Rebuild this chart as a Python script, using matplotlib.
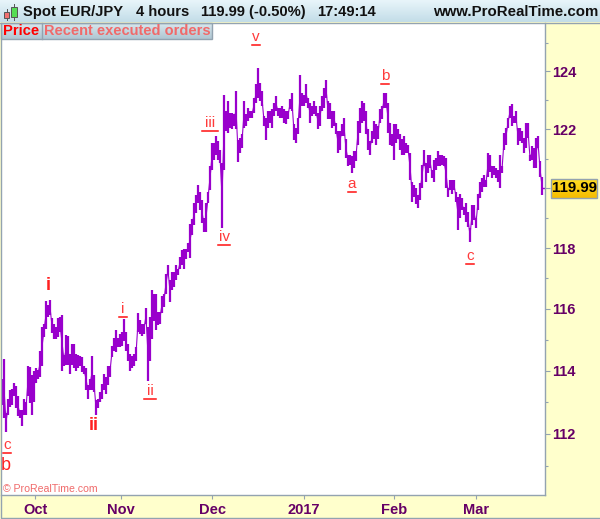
import matplotlib

matplotlib.use('Agg')

import matplotlib.pyplot as plt
from matplotlib.patches import Rectangle
from matplotlib.ticker import FixedFormatter, FixedLocator, NullFormatter
import numpy as np

plt.rcParams['font.family'] = ['Liberation Sans', 'DejaVu Sans']

# 4 hour bars, EUR/JPY
highs = [
    113.75, 114.38, 112.65, 113.1, 113.4, 113.43, 113.62, 113.5, 113.2, 112.75,
    112.75, 113.1, 113.0, 114.15, 114.12, 113.85, 114.0, 114.1, 114.03, 114.65,
    115.4, 115.5, 116.27, 116.13, 116.3, 115.7, 115.52, 115.4, 115.7, 115.75,
    115.8, 114.5, 115.15, 115.13, 114.53, 114.85, 114.85, 114.53, 114.5, 114.48,
    114.45, 114.15, 114.1, 113.53, 113.75, 114.48, 113.85, 113.06, 113.1, 113.32,
    113.58, 113.9, 113.8, 114.15, 114.16, 114.8, 115.07, 115.3, 115.07, 115.18,
    115.24, 115.67, 115.24, 114.86, 114.54, 114.48, 114.54, 114.75, 115.88, 115.63,
    115.52, 115.52, 116.02, 115.4, 115.74, 116.6, 116.5, 116.47, 115.9, 115.9,
    116.41, 116.5, 117.15, 117.45, 116.93, 117.2, 117.2, 117.43, 117.32, 117.7,
    117.93, 117.98, 117.98, 118.15, 118.8, 118.95, 119.5, 119.77, 120.1, 119.88,
    119.6, 118.99, 119.5, 119.88, 120.74, 121.54, 121.54, 121.77, 121.6, 121.31,
    120.85, 123.2, 122.63, 122.98, 122.57, 122.57, 122.52, 123.32, 121.65, 121.71,
    121.83, 122.98, 122.52, 122.75, 122.63, 122.63, 123.09, 123.55, 124.13, 123.6,
    123.32, 122.46, 122.4, 122.63, 122.63, 122.69, 122.92, 123.15, 122.75, 122.75,
    122.8, 122.69, 122.63, 122.63, 123.03, 123.26, 122.17, 122.06, 122.4, 123.86,
    123.26, 123.2, 123.55, 123.09, 122.92, 122.8, 122.98, 122.8, 122.57, 122.8,
    123.15, 123.44, 123.72, 122.98, 122.92, 122.63, 122.63, 122.23, 121.94, 121.94,
    122.17, 122.4, 121.66, 121.14, 121.14, 121.08, 121.25, 121.25, 122.29, 122.75,
    122.98, 122.92, 122.63, 122.0, 121.6, 121.94, 122.29, 122.17, 122.11, 122.69,
    122.8, 123.26, 123.26, 122.92, 122.23, 121.83, 122.17, 122.17, 122.0, 121.83,
    121.66, 121.77, 121.54, 121.48, 121.2, 120.22, 120.1, 120.0, 119.77, 120.16,
    120.8, 121.31, 120.85, 121.14, 121.14, 120.62, 120.97, 121.02, 121.25, 121.14,
    121.14, 121.08, 121.02, 119.99, 120.28, 120.28, 120.28, 119.88, 119.71, 119.82,
    119.66, 119.38, 119.49, 119.21, 118.66, 119.43, 119.43, 118.99, 119.82, 120.22,
    120.33, 120.45, 120.28, 121.2, 121.14, 120.74, 120.74, 120.68, 120.62, 121.14,
    120.74, 121.89, 122.06, 122.4, 122.8, 122.86, 122.46, 122.63, 122.06, 122.06,
    121.94, 121.71, 122.23, 122.23, 121.14, 121.43, 121.37, 121.71, 121.77, 120.91,
    120.39,
]
lows = [
    112.9, 112.49, 112.07, 112.6, 112.85, 112.9, 113.2, 112.8, 112.55, 112.49,
    112.23, 112.6, 112.6, 113.2, 112.96, 112.58, 113.0, 113.6, 113.75, 113.8,
    114.15, 115.08, 115.35, 115.75, 115.8, 115.2, 115.02, 115.02, 115.08, 115.25,
    114.0, 114.15, 114.2, 114.2, 113.9, 114.2, 114.1, 114.0, 114.1, 114.15,
    113.95, 113.9, 113.4, 113.1, 113.38, 113.38, 113.33, 112.6, 112.8, 113.0,
    113.1, 113.38, 113.25, 113.53, 113.8, 114.43, 114.65, 114.6, 114.75, 114.75,
    114.8, 114.97, 114.65, 114.32, 113.98, 114.1, 114.16, 114.32, 115.24, 115.18,
    115.13, 115.18, 115.52, 113.68, 114.32, 115.02, 115.6, 115.3, 115.47, 115.52,
    115.87, 116.07, 116.5, 117.1, 116.23, 116.62, 116.72, 116.93, 117.1, 117.32,
    117.43, 117.32, 117.65, 117.88, 117.68, 118.43, 118.77, 119.16, 119.5, 119.27,
    118.82, 118.54, 118.54, 119.5, 119.93, 120.62, 120.97, 121.14, 120.97, 120.85,
    118.67, 120.62, 121.94, 121.88, 122.06, 122.0, 122.11, 122.0, 120.9, 121.2,
    121.37, 122.06, 122.11, 122.29, 122.4, 122.4, 122.57, 122.92, 123.09, 122.98,
    122.8, 122.11, 121.65, 122.06, 122.23, 122.06, 122.46, 122.63, 122.46, 122.4,
    122.4, 122.23, 122.17, 122.34, 122.69, 122.63, 121.65, 121.54, 121.83, 122.4,
    122.8, 122.8, 122.92, 122.75, 122.23, 122.46, 122.52, 122.46, 122.0, 122.11,
    122.63, 122.75, 123.09, 122.34, 122.34, 122.06, 122.11, 121.83, 121.2, 121.31,
    121.77, 121.77, 121.02, 120.74, 120.8, 120.51, 120.68, 120.91, 121.48, 121.89,
    122.23, 122.29, 121.83, 121.31, 121.14, 121.54, 121.66, 121.48, 121.66, 122.23,
    122.34, 122.75, 122.75, 121.89, 121.48, 121.43, 120.97, 121.54, 121.66, 121.31,
    121.14, 121.14, 121.2, 121.2, 120.28, 119.53, 119.7, 119.48, 119.32, 119.6,
    119.99, 120.74, 120.22, 120.5, 120.68, 120.33, 120.22, 120.62, 120.74, 120.74,
    120.8, 120.74, 120.0, 119.71, 119.93, 119.82, 119.93, 119.54, 118.6, 118.99,
    119.27, 119.1, 118.88, 118.71, 118.21, 118.77, 118.93, 118.66, 119.27, 119.66,
    119.88, 120.05, 120.05, 120.39, 120.56, 120.33, 120.45, 120.33, 120.22, 120.0,
    120.5, 121.31, 121.48, 122.06, 122.4, 122.11, 122.23, 122.23, 121.48, 121.6,
    121.54, 121.2, 121.37, 121.71, 120.91, 120.97, 120.68, 120.68, 121.37, 120.39,
    119.77,
]
month_pos = [16.5, 59.5, 105, 151, 196, 237]
month_labels = ['Oct', 'Nov', 'Dec', '2017', 'Feb', 'Mar']
price_ticks = [112, 114, 116, 118, 120, 122, 124]
price_labels = ['112', '114', '116', '118', '', '122', '124']  # 120 sits under the price tag
price_minor = [111, 113, 115, 117, 119, 121, 123, 125]
last_price = 119.99

# wave labels: text, x, y
waves = [
    ('v', 256, 37), ('b', 385, 76), ('iii', 210, 123),
    ('a', 352, 184), ('iv', 224, 237), ('c', 470, 256),
    ('i', 123, 309), ('ii', 150, 391), ('c', 7, 445),
]

PURPLE = '#9900CC'
EDGE = '#93A3B0'
TEXT = '#660066'
RED = '#FF3B3B'

W, H = 600, 519
fig = plt.figure(figsize=(W / 100, H / 100), dpi=100, facecolor='#FFFFCC')

# chrome in pixel coords
bg = fig.add_axes([0, 0, 1, 1], zorder=3)
bg.axis('off')
bg.patch.set_alpha(0)


def gradient(x0, y0, x1, y1, top, bottom, z=1):
    c0 = np.array(matplotlib.colors.to_rgb(top))
    c1 = np.array(matplotlib.colors.to_rgb(bottom))
    t = np.linspace(0, 1, 32)[:, None, None]
    img = c0[None, None, :] * (1 - t) + c1[None, None, :] * t
    bg.imshow(img, extent=(x0, x1, y1, y0), aspect='auto', zorder=z)


gradient(0, 0, W, 22, '#E8F5FA', '#C3DDE8')
bg.plot([0, W], [22.5, 22.5], color=EDGE, lw=1)

# tabs
gradient(1, 23, 212, 39, '#D8E8EE', '#AFC6D2')
bg.add_patch(Rectangle((1, 23), 211, 16, fill=False, ec=EDGE, lw=1, zorder=2))
bg.plot([41.5, 41.5], [23, 39], color=EDGE, lw=1, zorder=2)

# small candle icon
bg.add_patch(Rectangle((4, 12), 5, 6, fc='#F07070', ec='#555555', lw=0.7, zorder=3))
bg.plot([6.5, 6.5], [9, 20], color='#555555', lw=0.7, zorder=2)
bg.add_patch(Rectangle((11, 7), 6, 10, fc='#55DD55', ec='#555555', lw=0.7, zorder=3))
bg.plot([14, 14], [4, 20], color='#555555', lw=0.7, zorder=2)

head = dict(fontweight='bold', color='#111111', va='center', ha='left')
bg.text(23, 12, 'Spot EUR/JPY', fontsize=10.6, **head)
bg.text(136, 12, '4 hours', fontsize=10.6, **head)
bg.text(201, 12, '119.99 (-0.50%)', fontsize=10.6, **head)
bg.text(317, 12, '17:49:14', fontsize=10.6, **head)
bg.text(433, 12, 'www.ProRealTime.com', fontsize=10.8, **head)
bg.text(3, 31, 'Price', fontsize=10.6, fontweight='bold', color='#FF0000', va='center')
bg.text(44, 31, 'Recent executed orders', fontsize=10.5, fontweight='bold',
        color='#F06A6A', va='center')

# wave labels
for txt, x, y in waves:
    bg.text(x, y, txt, fontsize=11, color=RED, ha='center', va='center')
    w = 5 + 3.4 * len(txt)
    bg.plot([x - w / 2, x + w / 2], [y + 7.5, y + 7.5], color='#FF1010', lw=1.1)
bg.text(48, 285, 'i', fontsize=13, fontweight='bold', color='#FF2020', ha='center', va='center')
bg.text(94, 425, 'ii', fontsize=13, fontweight='bold', color='#FF2020', ha='center', va='center')
bg.text(6, 466, 'b', fontsize=13, color='#FF2020', ha='center', va='center')
bg.text(3, 489, '© ProRealTime.com', fontsize=7.6, color='#F06A6A', va='center')

# last price tag
gradient(551, 179, 597, 198, '#FFDD22', '#F5BC00')
bg.add_patch(Rectangle((551, 179), 46, 19, fill=False, ec=EDGE, lw=1, zorder=2))
bg.text(574, 188.5, '%.2f' % last_price, fontsize=10.8, fontweight='bold', color='black',
        ha='center', va='center', zorder=4)

# outer edge, left and bottom only
bg.plot([0.5, 0.5, W], [23, H - 0.7, H - 0.7], color=EDGE, lw=1, zorder=5)
bg.set_xlim(0, W)
bg.set_ylim(H, 0)

# price chart
ax = fig.add_axes([1 / W, 1 - 495 / H, 544 / W, 472 / H], zorder=2, facecolor='white')
x = np.arange(len(highs))
mid = (np.array(highs) + np.array(lows)) / 2
ax.plot(x, mid, color=PURPLE, lw=0.8, zorder=1)
ax.vlines(x, lows, highs, color=PURPLE, lw=1.6, zorder=2)
ax.hlines(last_price, x[-1], x[-1] + 1.5, color=PURPLE, lw=1)
ax.set_yscale('log')
ax.set_xlim(-0.5, 271.5)
ax.set_ylim(110.09, 125.7)

ax.yaxis.tick_right()
ax.yaxis.set_major_locator(FixedLocator(price_ticks))
ax.yaxis.set_major_formatter(FixedFormatter(price_labels))
ax.yaxis.set_minor_locator(FixedLocator(price_minor))
ax.yaxis.set_minor_formatter(NullFormatter())
ax.set_xticks(month_pos, month_labels)
ax.tick_params(axis='y', which='major', length=3.5, width=0.8, color=EDGE, labelcolor=TEXT,
               labelsize=10.5, pad=1.5)
ax.tick_params(axis='y', which='minor', length=2, width=0.8, color=EDGE)
ax.tick_params(axis='x', length=3, width=0.8, color=EDGE, labelcolor=TEXT, labelsize=10.5, pad=2.5)
for lab in ax.get_xticklabels() + ax.get_yticklabels():
    lab.set_fontweight('bold')
for name in ['left', 'top']:
    ax.spines[name].set_visible(False)
for name in ['right', 'bottom']:
    ax.spines[name].set_color(EDGE)
    ax.spines[name].set_linewidth(1)

fig.savefig('out.png', dpi=100, facecolor=fig.get_facecolor())
